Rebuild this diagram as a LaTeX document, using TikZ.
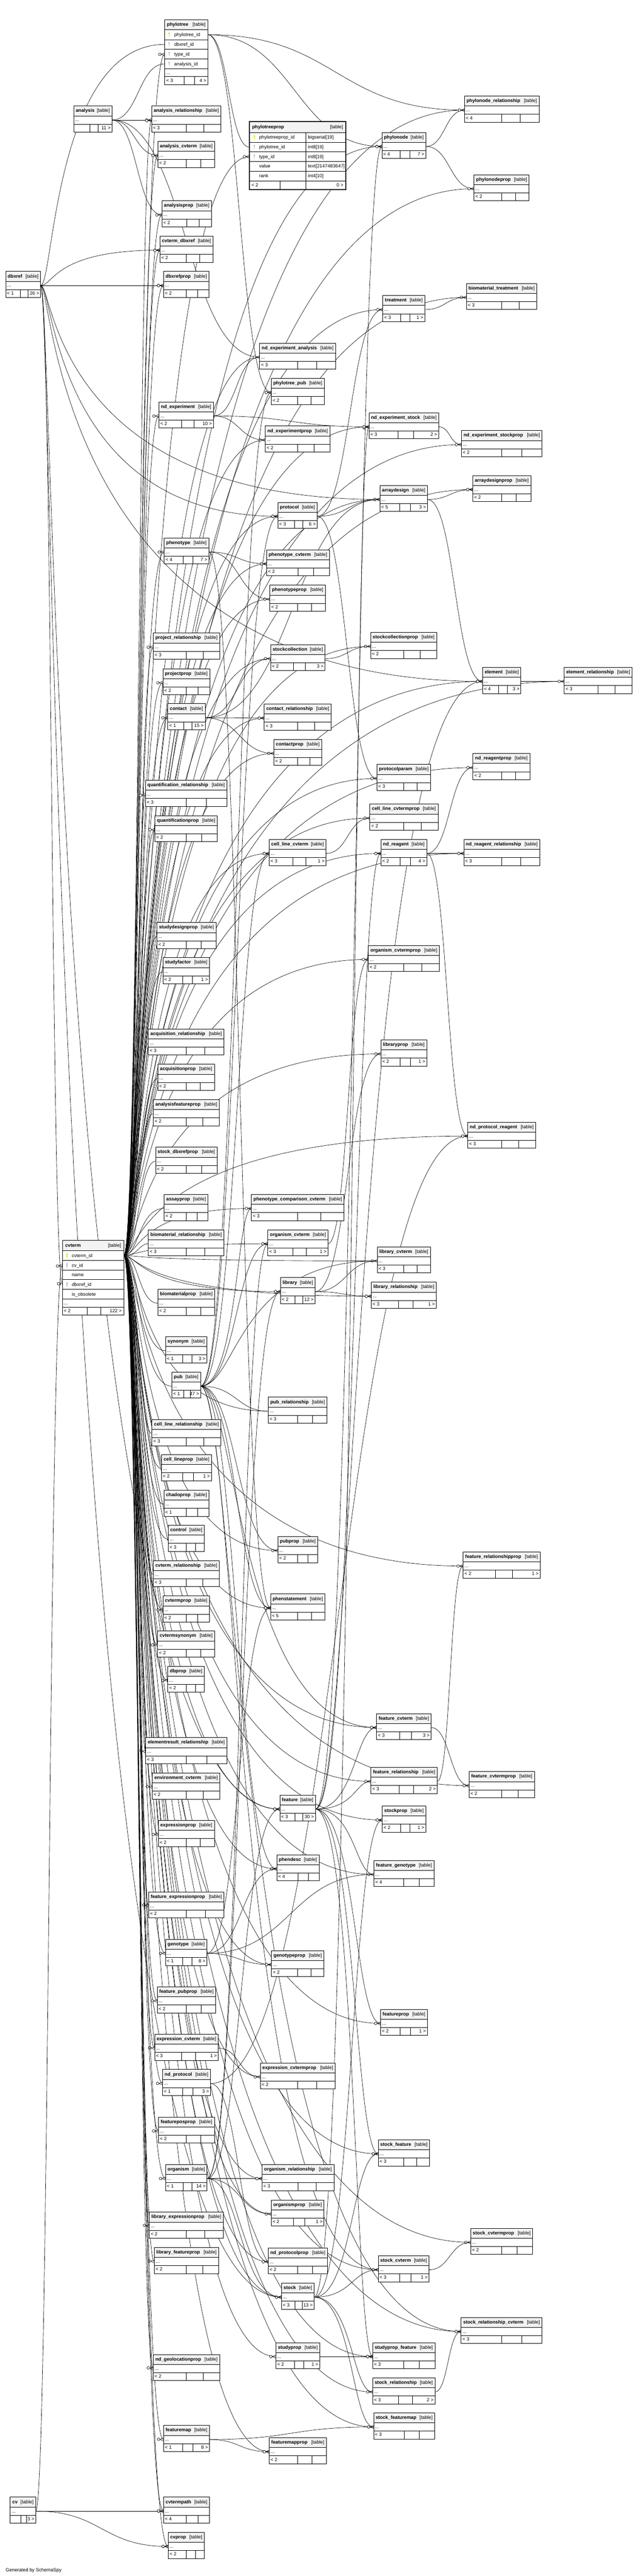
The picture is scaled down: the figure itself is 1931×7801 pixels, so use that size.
\documentclass[tikz,border=0pt]{standalone}
\usepackage{fontspec}
\setmainfont{Liberation Sans}
\usepackage{tikz}
\usetikzlibrary{calc, decorations.markings}
\usepackage{xcolor}

\definecolor{hdrgray}{RGB}{243,243,243}
\definecolor{pkyellow}{RGB}{228,228,0}
\definecolor{fkgray}{RGB}{192,192,192}
\pgfdeclarelayer{edges}
\pgfsetlayers{edges,main}

\tikzset{
  tblline/.style={line width=0.6pt},
  rowbox/.style={inner sep=0pt, outer sep=0pt, minimum height=12.5pt},
  txt/.style={inner sep=0pt, anchor=base west},
  fk/.style={line width=0.5pt, postaction={decorate},
    decoration={markings, mark=at position 1 with {
      \draw[line width=0.5pt] (-5.5pt,0pt) -- (0pt,2pt) (-5.5pt,0pt) -- (0pt,-2pt);
      \draw[line width=0.5pt, fill=white] (-7.5pt,0pt) circle (2pt);}}},
  fkone/.style={line width=0.5pt, postaction={decorate},
    decoration={markings, mark=at position 1 with {
      \draw[line width=0.8pt] (-3pt,-2.2pt) -- (-3pt,2.2pt);
      \draw[line width=0.5pt, fill=white] (-6pt,0pt) circle (2pt);}}}
}

% collapsed table: name, x, y, width, parents, children
\newcommand{\tbl}[6]{%
  \fill[white] (#2,#3) rectangle ++(#4,79);
  \fill[hdrgray] (#2,#3) rectangle ++(#4,30);
  \node[rowbox, minimum width=#4*0.5pt, anchor=north west] (#1) at (#2,#3+30) {};
  \draw[tblline] (#2,#3) rectangle ++(#4,79);
  \draw[tblline] (#2,#3+30) -- ++(#4,0);
  \draw[tblline] (#2,#3+55) -- ++(#4,0);
  \node[txt] (#1-name) at (#2+6,#3+19) {\bfseries #1};
  \node[txt, anchor=base east] (#1-tag) at (#2+#4-6,#3+19) {[table]};
  \node[txt] (#1-dots) at (#2+4,#3+47) {...};
  \if\relax\detokenize{#6}\relax
    \draw[tblline] (#2+0.5*#4,#3+55) -- ++(0,24) (#2+0.75*#4,#3+55) -- ++(0,24);
  \else
    \draw[tblline] (#2+0.42*#4,#3+55) -- ++(0,24) (#2+0.64*#4,#3+55) -- ++(0,24);
    \node[txt, anchor=base east] (#1-out) at (#2+#4-4,#3+71) {#6 >};
  \fi
  \if\relax\detokenize{#5}\relax\else
    \node[txt] (#1-in) at (#2+4,#3+71) {< #5};
  \fi
}
% key icon: x, y, colour
\newcommand{\pkey}[3]{\fill[#3] (#1,#2-4) circle (1.5pt); \fill[#3] (#1-1,#2-4) rectangle (#1+1,#2+6);}
% connector, parent east to child west
\newcommand{\fk}[3][fk]{\draw[#1] let \p1=(#2.east), \p2=(#3.west) in
  (\p1) .. controls ({0.5*(\x1+\x2)},\y1) and ({0.5*(\x1+\x2)},\y2) .. (\p2);}
% connector that turns near its parent
\newcommand{\fkh}[3]{\draw[fk] let \p1=(#2.east), \p2=(#3.west) in
  (\p1) .. controls ({\x1+0.5*#1pt},\y1) and ({\x1+0.5*#1pt},\y2) .. (\p2);}

\begin{document}
\catcode`\_=12
\begin{tikzpicture}[x=0.5pt, y=-0.5pt, font=\fontsize{7.2}{8.6}\selectfont]
\useasboundingbox (0,0) rectangle (1931,7801);

% expanded: phylotree
\fill[white] (499,60) rectangle (629,257);
\fill[hdrgray] (499,60) rectangle (629,90);
\node[rowbox, minimum width=65pt, minimum height=15pt, anchor=north west] (phylotree) at (499,90) {};
\node[rowbox, minimum width=65pt, minimum height=14.5pt, anchor=north west] (phylotree-dbxref) at (499,120) {};
\node[rowbox, minimum width=65pt, minimum height=15pt, anchor=north west] (phylotree-type) at (499,149) {};
\node[rowbox, minimum width=65pt, minimum height=14.5pt, anchor=north west] (phylotree-analysis) at (499,179) {};
\draw[tblline] (499,60) rectangle (629,257);
\draw[tblline] (499,90) -- (629,90) (499,120) -- (629,120) (499,149) -- (629,149)
  (499,179) -- (629,179) (499,208) -- (629,208) (499,232) -- (629,232);
\draw[tblline] (557,232) -- (557,257) (589,232) -- (589,257);
\node[txt] (phylotree-name) at (505,79) {\bfseries phylotree};
\node[txt, anchor=base east] (phylotree-tag) at (623,79) {[table]};
\pkey{512}{105}{pkyellow}
\pkey{512}{134.5}{fkgray}
\pkey{512}{164}{fkgray}
\pkey{512}{193.5}{fkgray}
\node[txt] (phylotree-c1) at (527,110) {phylotree_id};
\node[txt] (phylotree-c2) at (527,139.5) {dbxref_id};
\node[txt] (phylotree-c3) at (527,169) {type_id};
\node[txt] (phylotree-c4) at (527,198.5) {analysis_id};
\node[txt] (phylotree-dots) at (503,225) {...};
\node[txt] (phylotree-in) at (503,249) {< 3};
\node[txt, anchor=base east] (phylotree-out) at (625,249) {4 >};

% expanded: phylotreeprop
\fill[white] (755,368) rectangle (1047,574);
\fill[hdrgray] (755,368) rectangle (1047,401);
\node[rowbox, minimum width=146pt, minimum height=15pt, anchor=north west] (phylotreeprop) at (755,401) {};
\node[rowbox, minimum width=146pt, minimum height=14.5pt, anchor=north west] (phylotreeprop-tree) at (755,431) {};
\node[rowbox, minimum width=146pt, minimum height=14.5pt, anchor=north west] (phylotreeprop-type) at (755,460) {};
\draw[line width=1.5pt] (755,368) rectangle (1047,574);
\draw[tblline] (755,401) -- (1047,401) (755,431) -- (1047,431) (755,460) -- (1047,460)
  (755,489) -- (1047,489) (755,518) -- (1047,518) (755,548) -- (1047,548);
\draw[tblline] (926,401) -- (926,574) (847,548) -- (847,574);
\node[txt] (phylotreeprop-name) at (763,389) {\bfseries phylotreeprop};
\node[txt, anchor=base east] (phylotreeprop-tag) at (1039,389) {[table]};
\pkey{770}{416}{pkyellow}
\pkey{770}{445.5}{fkgray}
\pkey{770}{474.5}{fkgray}
\node[txt] (phylotreeprop-c1) at (784,421) {phylotreeprop_id};
\node[txt] (phylotreeprop-c2) at (784,450.5) {phylotree_id};
\node[txt] (phylotreeprop-c3) at (784,479.5) {type_id};
\node[txt] (phylotreeprop-c4) at (784,508.5) {value};
\node[txt] (phylotreeprop-c5) at (784,538) {rank};
\node[txt] (phylotreeprop-t1) at (932,421) {bigserial[19]};
\node[txt] (phylotreeprop-t2) at (932,450.5) {int8[19]};
\node[txt] (phylotreeprop-t3) at (932,479.5) {int8[19]};
\node[txt] (phylotreeprop-t4) at (932,508.5) {text[2147483647]};
\node[txt] (phylotreeprop-t5) at (932,538) {int4[10]};
\node[txt] (phylotreeprop-in) at (761,566) {< 2};
\node[txt, anchor=base east] (phylotreeprop-out) at (1040,566) {0 >};

% expanded: cvterm
\fill[white] (189,3756) rectangle (375,3982);
\fill[hdrgray] (189,3756) rectangle (375,3787);
\node[rowbox, minimum width=93pt, minimum height=15pt, anchor=north west] (cvterm) at (189,3787) {};
\node[rowbox, minimum width=93pt, minimum height=14.5pt, anchor=north west] (cvterm-cv) at (189,3817) {};
\node[rowbox, minimum width=93pt, minimum height=14.5pt, anchor=north west] (cvterm-dbxref) at (189,3875) {};
\draw[tblline] (189,3756) rectangle (375,3982);
\draw[tblline] (189,3787) -- (375,3787) (189,3817) -- (375,3817) (189,3846) -- (375,3846)
  (189,3875) -- (375,3875) (189,3904) -- (375,3904) (189,3934) -- (375,3934) (189,3958) -- (375,3958);
\draw[tblline] (265,3958) -- (265,3982) (305,3958) -- (305,3982);
\node[txt] (cvterm-name) at (197,3776) {\bfseries cvterm};
\node[txt, anchor=base east] (cvterm-tag) at (367,3776) {[table]};
\pkey{203}{3802}{pkyellow}
\pkey{203}{3831.5}{fkgray}
\pkey{203}{3889.5}{fkgray}
\node[txt] (cvterm-c1) at (217,3807) {cvterm_id};
\node[txt] (cvterm-c2) at (217,3836.5) {cv_id};
\node[txt] (cvterm-c3) at (217,3865.5) {name};
\node[txt] (cvterm-c4) at (217,3894.5) {dbxref_id};
\node[txt] (cvterm-c5) at (217,3924) {is_obsolete};
\node[txt] (cvterm-dots) at (193,3951) {...};
\node[txt] (cvterm-in) at (193,3975) {< 2};
\node[txt, anchor=base east] (cvterm-out) at (369,3975) {122 >};

% left column
\tbl{analysis}{223}{321}{116}{}{11}
\tbl{dbxref}{17}{822}{106}{1}{26}
\tbl{cv}{31}{7562}{77}{}{3}

% second column
\tbl{analysis_relationship}{459}{321}{210}{3}{}
\tbl{analysis_cvterm}{478}{428}{172}{2}{}
\tbl{analysisprop}{490}{608}{150}{2}{}
\tbl{cvterm_dbxref}{484}{715}{161}{2}{}
\tbl{dbxrefprop}{495}{822}{138}{2}{}
\tbl{nd_experiment}{481}{1217}{165}{2}{10}
\tbl{phenotype}{497}{1629}{135}{4}{7}
\tbl{project_relationship}{464}{1917}{201}{3}{}
\tbl{projectprop}{493}{2025}{142}{2}{}
\tbl{contact}{508}{2131}{113}{1}{15}
\tbl{quantification_relationship}{440}{2363}{247}{3}{}
\tbl{quantificationprop}{469}{2470}{189}{2}{}
\tbl{studydesignprop}{475}{2794}{179}{2}{}
\tbl{studyfactor}{493}{2900}{141}{2}{1}
\tbl{acquisition_relationship}{449}{3116}{229}{3}{}
\tbl{acquisitionprop}{478}{3223}{171}{2}{}
\tbl{analysisfeatureprop}{464}{3330}{200}{2}{}
\tbl{stock_dbxrefprop}{471}{3474}{186}{2}{}
\tbl{assayprop}{497}{3617}{133}{2}{}
\tbl{biomaterial_relationship}{449}{3724}{229}{3}{}
\tbl{biomaterialprop}{478}{3904}{172}{2}{}
\tbl{synonym}{501}{4048}{125}{1}{3}
\tbl{pub}{520}{4155}{87}{1}{47}
\tbl{cell_line_relationship}{460}{4299}{209}{3}{}
\tbl{cell_lineprop}{489}{4405}{151}{2}{1}
\tbl{chadoprop}{496}{4513}{137}{1}{}
\tbl{control}{509}{4619}{110}{3}{}
\tbl{cvterm_relationship}{464}{4726}{200}{3}{}
\tbl{cvtermprop}{493}{4833}{141}{2}{}
\tbl{cvtermsynonym}{477}{4939}{173}{2}{}
\tbl{dbprop}{508}{5046}{111}{2}{}
\tbl{elementresult_relationship}{441}{5262}{246}{3}{}
\tbl{environment_cvterm}{461}{5369}{205}{2}{}
\tbl{expressionprop}{479}{5513}{170}{2}{}
\tbl{feature_expressionprop}{450}{5729}{228}{2}{}
\tbl{genotype}{501}{5873}{125}{1}{8}
\tbl{feature_pubprop}{476}{6017}{177}{2}{}
\tbl{expression_cvterm}{468}{6160}{193}{3}{1}
\tbl{nd_protocol}{492}{6267}{145}{1}{3}
\tbl{featureposprop}{480}{6411}{169}{2}{}
\tbl{organism}{501}{6555}{126}{1}{14}
\tbl{library_expressionprop}{452}{6699}{224}{2}{}
\tbl{library_featureprop}{467}{6806}{195}{2}{}
\tbl{nd_geolocationprop}{464}{7130}{201}{2}{}
\tbl{featuremap}{495}{7345}{139}{1}{8}
\tbl{cvtermpath}{495}{7562}{139}{4}{}
\tbl{cvprop}{509}{7669}{110}{2}{}

% third column
\tbl{nd_experiment_analysis}{786}{1039}{230}{3}{}
\tbl{phylotree_pub}{821}{1146}{161}{2}{}
\tbl{nd_experimentprop}{803}{1290}{196}{2}{}
\tbl{protocol}{841}{1521}{119}{3}{6}
\tbl{phenotype_cvterm}{807}{1665}{190}{2}{}
\tbl{phenotypeprop}{817}{1772}{168}{2}{}
\tbl{stockcollection}{819}{1952}{165}{2}{3}
\tbl{contact_relationship}{800}{2132}{203}{3}{}
\tbl{contactprop}{829}{2239}{145}{2}{}
\tbl{cell_line_cvterm}{815}{2542}{172}{3}{1}
\tbl{phenotype_comparison_cvterm}{761}{3617}{281}{3}{}
\tbl{organism_cvterm}{811}{3724}{182}{3}{1}
\tbl{library}{849}{3869}{105}{2}{12}
\tbl{pub_relationship}{812}{4231}{178}{3}{}
\tbl{pubprop}{841}{4653}{121}{2}{}
\tbl{phenstatement}{819}{4827}{165}{5}{}
\tbl{feature}{847}{5436}{108}{3}{30}
\tbl{phendesc}{838}{5617}{128}{4}{}
\tbl{genotypeprop}{822}{5907}{159}{2}{}
\tbl{expression_cvtermprop}{788}{6247}{227}{2}{}
\tbl{organism_relationship}{793}{6555}{218}{3}{}
\tbl{organismprop}{821}{6662}{160}{2}{1}
\tbl{nd_protocolprop}{812}{6807}{179}{2}{}
\tbl{stock}{852}{6914}{99}{3}{13}
\tbl{studyprop}{835}{7094}{133}{2}{1}
\tbl{featuremapprop}{815}{7382}{173}{2}{}

% fourth column
\tbl{phylonode}{1156}{401}{133}{4}{7}
\tbl{treatment}{1159}{895}{127}{3}{1}
\tbl{nd_experiment_stock}{1117}{1250}{211}{3}{2}
\tbl{arraydesign}{1150}{1470}{144}{5}{3}
\tbl{stockcollectionprop}{1122}{1915}{200}{2}{}
\tbl{protocolparam}{1141}{2315}{163}{3}{}
\tbl{cell_line_cvtermprop}{1120}{2435}{206}{2}{}
\tbl{nd_reagent}{1153}{2542}{139}{2}{4}
\tbl{organism_cvtermprop}{1115}{2863}{215}{2}{}
\tbl{libraryprop}{1153}{3149}{139}{2}{1}
\tbl{library_cvterm}{1142}{3776}{161}{3}{}
\tbl{library_relationship}{1124}{3883}{197}{3}{1}
\tbl{feature_cvterm}{1140}{5189}{165}{3}{3}
\tbl{feature_relationship}{1123}{5352}{201}{3}{2}
\tbl{stockprop}{1157}{5469}{132}{2}{1}
\tbl{feature_genotype}{1132}{5634}{182}{4}{}
\tbl{featureprop}{1152}{6085}{142}{2}{1}
\tbl{stock_feature}{1145}{6480}{156}{3}{}
\tbl{stock_cvterm}{1145}{6831}{154}{3}{1}
\tbl{studyprop_feature}{1128}{7094}{189}{3}{}
\tbl{stock_relationship}{1128}{7201}{189}{3}{2}
\tbl{stock_featuremap}{1131}{7307}{185}{3}{}

% fifth column
\tbl{phylonode_relationship}{1406}{291}{226}{4}{}
\tbl{phylonodeprop}{1435}{529}{167}{2}{}
\tbl{biomaterial_treatment}{1412}{858}{213}{3}{}
\tbl{nd_experiment_stockprop}{1397}{1304}{244}{2}{}
\tbl{arraydesignprop}{1431}{1440}{176}{2}{}
\tbl{element}{1461}{2021}{116}{4}{3}
\tbl{nd_reagentprop}{1432}{2282}{172}{2}{}
\tbl{nd_reagent_relationship}{1404}{2542}{230}{3}{}
\tbl{nd_protocol_reagent}{1416}{3398}{206}{3}{}
\tbl{feature_relationshipprop}{1402}{4700}{233}{2}{1}
\tbl{feature_cvtermprop}{1420}{5365}{198}{2}{}
\tbl{stock_cvtermprop}{1425}{6748}{188}{2}{}
\tbl{stock_relationship_cvterm}{1396}{7018}{245}{3}{}
\tbl{element_relationship}{1708}{2021}{206}{3}{}

\node[txt] (credit) at (17,7787) {Generated by SchemaSpy};

\begin{pgfonlayer}{edges}
\fill[white] (0,0) rectangle (1931,7801);
% cv
\fk{cv}{cvterm-cv}
\fk{cv}{cvtermpath}
\fk{cv}{cvprop}
% dbxref
\fk[fkone]{dbxref}{cvterm-dbxref}
\fkh{40}{dbxref}{phylotree-dbxref}
\fkh{40}{dbxref}{cvterm_dbxref}
\fkh{40}{dbxref}{dbxrefprop}
\fkh{40}{dbxref}{protocol}
\fkh{40}{dbxref}{arraydesign}
\fkh{40}{dbxref}{element}
\fkh{40}{dbxref}{feature}
\fkh{40}{dbxref}{stock}
% analysis
\fk{analysis}{phylotree-analysis}
\fk{analysis}{analysis_relationship}
\fk{analysis}{analysis_cvterm}
\fk{analysis}{analysisprop}
\fk{analysis}{nd_experiment_analysis}
% phylotree, phylonode
\fk{phylotree}{phylotreeprop-tree}
\fk{phylotree}{phylonode}
\fk{phylotree}{phylonode_relationship}
\fk{phylotree}{phylotree_pub}
\fk{phylonode}{phylonode_relationship}
\fk{phylonode}{phylonodeprop}
% cvterm
\fkh{45}{cvterm}{phylotreeprop-type}
\fkh{45}{cvterm}{phylotree-type}
\fkh{45}{cvterm}{phylonode}
\fkh{45}{cvterm}{phylonode_relationship}
\fkh{45}{cvterm}{phylonodeprop}
\fkh{45}{cvterm}{analysis_relationship}
\fkh{45}{cvterm}{analysis_cvterm}
\fkh{45}{cvterm}{analysisprop}
\fkh{45}{cvterm}{cvterm_dbxref}
\fkh{45}{cvterm}{dbxrefprop}
\fkh{45}{cvterm}{nd_experiment}
\fkh{45}{cvterm}{nd_experiment_analysis}
\fkh{45}{cvterm}{nd_experimentprop}
\fkh{45}{cvterm}{nd_experiment_stock}
\fkh{45}{cvterm}{nd_experiment_stockprop}
\fkh{45}{cvterm}{treatment}
\fkh{45}{cvterm}{biomaterial_treatment}
\fkh{45}{cvterm}{protocol}
\fkh{45}{cvterm}{arraydesign}
\fkh{45}{cvterm}{arraydesignprop}
\fkh{45}{cvterm}{element}
\fkh{45}{cvterm}{element_relationship}
\fkh{45}{cvterm}{phenotype}
\fkh{45}{cvterm}{phenotype_cvterm}
\fkh{45}{cvterm}{phenotypeprop}
\fkh{45}{cvterm}{project_relationship}
\fkh{45}{cvterm}{projectprop}
\fkh{45}{cvterm}{stockcollection}
\fkh{45}{cvterm}{stockcollectionprop}
\fkh{45}{cvterm}{contact}
\fkh{45}{cvterm}{contact_relationship}
\fkh{45}{cvterm}{contactprop}
\fkh{45}{cvterm}{protocolparam}
\fkh{45}{cvterm}{nd_reagentprop}
\fkh{45}{cvterm}{quantification_relationship}
\fkh{45}{cvterm}{cell_line_cvtermprop}
\fkh{45}{cvterm}{quantificationprop}
\fkh{45}{cvterm}{cell_line_cvterm}
\fkh{45}{cvterm}{nd_reagent}
\fkh{45}{cvterm}{nd_reagent_relationship}
\fkh{45}{cvterm}{studydesignprop}
\fkh{45}{cvterm}{organism_cvtermprop}
\fkh{45}{cvterm}{studyfactor}
\fkh{45}{cvterm}{acquisition_relationship}
\fkh{45}{cvterm}{libraryprop}
\fkh{45}{cvterm}{acquisitionprop}
\fkh{45}{cvterm}{analysisfeatureprop}
\fkh{45}{cvterm}{nd_protocol_reagent}
\fkh{45}{cvterm}{stock_dbxrefprop}
\fkh{45}{cvterm}{assayprop}
\fkh{45}{cvterm}{phenotype_comparison_cvterm}
\fkh{45}{cvterm}{biomaterial_relationship}
\fkh{45}{cvterm}{organism_cvterm}
\fkh{45}{cvterm}{library_cvterm}
\fkh{45}{cvterm}{library}
\fkh{45}{cvterm}{library_relationship}
\fkh{45}{cvterm}{biomaterialprop}
\fkh{45}{cvterm}{synonym}
\fkh{45}{cvterm}{pub}
\fkh{45}{cvterm}{pub_relationship}
\fkh{45}{cvterm}{cell_line_relationship}
\fkh{45}{cvterm}{cell_lineprop}
\fkh{45}{cvterm}{chadoprop}
\fkh{45}{cvterm}{control}
\fkh{45}{cvterm}{pubprop}
\fkh{45}{cvterm}{feature_relationshipprop}
\fkh{45}{cvterm}{cvterm_relationship}
\fkh{45}{cvterm}{phenstatement}
\fkh{45}{cvterm}{cvtermprop}
\fkh{45}{cvterm}{cvtermsynonym}
\fkh{45}{cvterm}{dbprop}
\fkh{45}{cvterm}{feature_cvterm}
\fkh{45}{cvterm}{elementresult_relationship}
\fkh{45}{cvterm}{feature_relationship}
\fkh{45}{cvterm}{feature_cvtermprop}
\fkh{45}{cvterm}{environment_cvterm}
\fkh{45}{cvterm}{feature}
\fkh{45}{cvterm}{stockprop}
\fkh{45}{cvterm}{expressionprop}
\fkh{45}{cvterm}{phendesc}
\fkh{45}{cvterm}{feature_genotype}
\fkh{45}{cvterm}{feature_expressionprop}
\fkh{45}{cvterm}{genotype}
\fkh{45}{cvterm}{genotypeprop}
\fkh{45}{cvterm}{feature_pubprop}
\fkh{45}{cvterm}{featureprop}
\fkh{45}{cvterm}{expression_cvterm}
\fkh{45}{cvterm}{nd_protocol}
\fkh{45}{cvterm}{expression_cvtermprop}
\fkh{45}{cvterm}{featureposprop}
\fkh{45}{cvterm}{stock_feature}
\fkh{45}{cvterm}{organism}
\fkh{45}{cvterm}{organism_relationship}
\fkh{45}{cvterm}{organismprop}
\fkh{45}{cvterm}{library_expressionprop}
\fkh{45}{cvterm}{library_featureprop}
\fkh{45}{cvterm}{nd_protocolprop}
\fkh{45}{cvterm}{stock_cvtermprop}
\fkh{45}{cvterm}{stock_cvterm}
\fkh{45}{cvterm}{stock}
\fkh{45}{cvterm}{stock_relationship_cvterm}
\fkh{45}{cvterm}{studyprop}
\fkh{45}{cvterm}{studyprop_feature}
\fkh{45}{cvterm}{nd_geolocationprop}
\fkh{45}{cvterm}{stock_relationship}
\fkh{45}{cvterm}{stock_featuremap}
\fkh{45}{cvterm}{featuremap}
\fkh{45}{cvterm}{featuremapprop}
\fkh{45}{cvterm}{cvtermpath}
\fkh{45}{cvterm}{cvprop}
% pub
\fkh{110}{pub}{phylotree_pub}
\fkh{110}{pub}{protocol}
\fkh{110}{pub}{cell_line_cvterm}
\fkh{110}{pub}{phenotype_comparison_cvterm}
\fkh{110}{pub}{organism_cvterm}
\fkh{110}{pub}{library_cvterm}
\fkh{110}{pub}{pub_relationship}
\fkh{110}{pub}{pubprop}
\fkh{110}{pub}{phenstatement}
\fkh{110}{pub}{feature_cvterm}
\fkh{110}{pub}{phendesc}
\fkh{110}{pub}{stock_cvterm}
\fkh{110}{pub}{stock_relationship_cvterm}
% organism
\fkh{100}{organism}{organism_relationship}
\fkh{100}{organism}{organismprop}
\fkh{100}{organism}{organism_cvterm}
\fkh{100}{organism}{library}
\fkh{100}{organism}{feature}
\fkh{100}{organism}{stock}
% feature
\fkh{120}{feature}{phylonode}
\fkh{120}{feature}{element}
\fkh{120}{feature}{nd_reagent}
\fkh{120}{feature}{feature_cvterm}
\fkh{120}{feature}{feature_relationship}
\fkh{120}{feature}{featureprop}
\fkh{120}{feature}{feature_genotype}
\fkh{120}{feature}{stock_feature}
\fkh{120}{feature}{studyprop_feature}
% stock
\fkh{115}{stock}{nd_experiment_stock}
\fkh{115}{stock}{stockprop}
\fkh{115}{stock}{stock_feature}
\fkh{115}{stock}{stock_cvterm}
\fkh{115}{stock}{stock_relationship}
\fkh{115}{stock}{stock_featuremap}
% the rest
\fk{nd_experiment}{nd_experiment_analysis}
\fk{nd_experiment}{nd_experimentprop}
\fk{nd_experiment}{nd_experiment_stock}
\fk{nd_experiment_stock}{nd_experiment_stockprop}
\fk{treatment}{biomaterial_treatment}
\fk{protocol}{treatment}
\fk{protocol}{arraydesign}
\fk{protocol}{protocolparam}
\fk{arraydesign}{arraydesignprop}
\fk{arraydesign}{element}
\fk{element}{element_relationship}
\fk{phenotype}{phenotype_cvterm}
\fk{phenotype}{phenotypeprop}
\fk{phenotype}{phenstatement}
\fk{stockcollection}{stockcollectionprop}
\fk{contact}{contact_relationship}
\fk{contact}{contactprop}
\fk{contact}{arraydesign}
\fk{contact}{stockcollection}
\fk{cell_line_cvterm}{cell_line_cvtermprop}
\fk{nd_reagent}{nd_reagentprop}
\fk{nd_reagent}{nd_reagent_relationship}
\fk{nd_reagent}{nd_protocol_reagent}
\fk{organism_cvterm}{organism_cvtermprop}
\fk{library}{libraryprop}
\fk{library}{library_cvterm}
\fk{library}{library_relationship}
\fk{feature_cvterm}{feature_cvtermprop}
\fk{feature_relationship}{feature_relationshipprop}
\fk{genotype}{genotypeprop}
\fk{genotype}{phendesc}
\fk{genotype}{phenstatement}
\fk{genotype}{feature_genotype}
\fk{expression_cvterm}{expression_cvtermprop}
\fk{nd_protocol}{nd_protocolprop}
\fk{nd_protocol}{nd_protocol_reagent}
\fk{stock_cvterm}{stock_cvtermprop}
\fk{stock_relationship}{stock_relationship_cvterm}
\fk{studyprop}{studyprop_feature}
\fk{featuremap}{featuremapprop}
\fk{featuremap}{stock_featuremap}
\end{pgfonlayer}
\end{tikzpicture}
\end{document}
